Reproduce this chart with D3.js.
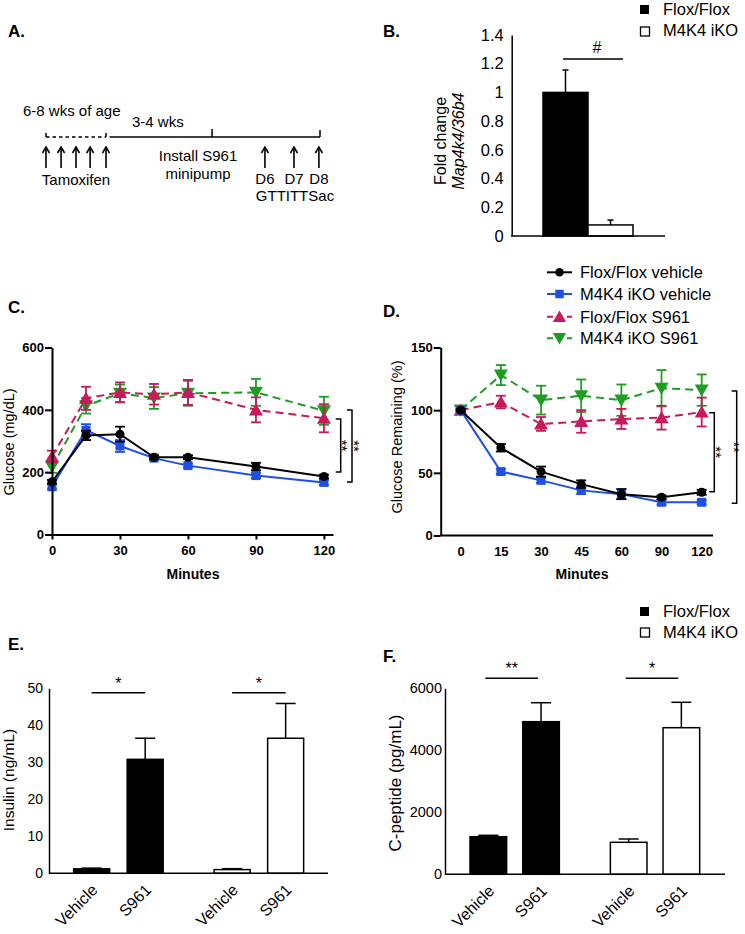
<!DOCTYPE html>
<html><head><meta charset="utf-8">
<script src="https://cdn.jsdelivr.net/npm/d3@7"></script>
<style>
body{margin:0;background:#fff}
svg{display:block}
text{font-family:'Liberation Sans',Arial,Helvetica,sans-serif;fill:#000}
</style>
</head><body>
<svg id="fig" width="745" height="934"></svg>
<script>
// ---------------- DATA ----------------
// Panel A (schematic timeline, positions in % of timeline)
const tamoxifenDays = [0, 5.5, 10.95, 16.1, 21.9];
const eventArrows = [79.9, 90.5, 99.6];
const eventTop = ["D6", "D7", "D8"];
const eventBottom = ["GTT", "ITT", "Sac"];
const installPos = 60.6;

// Panel B
const bGroups = ["Flox/Flox", "M4K4 iKO"];
const bValues = [1.0, 0.077];
const bErrors = [0.156, 0.034];
const bTicks = [0, 0.2, 0.4, 0.6, 0.8, 1, 1.2, 1.4];

// Panel C (GTT)
const gttMinutes = [0, 15, 30, 45, 60, 90, 120];
const gttFloxVeh = [169, 318, 322, 248, 248, 218, 186];
const gttFloxVehErr = [6, 15, 24, 6, 6, 12, 6];
const gttKoVeh = [153, 335, 284, 245, 221, 189, 167];
const gttKoVehErr = [8, 19, 19, 6, 6, 8, 8];
const gttFloxS961 = [250, 437, 456, 450, 456, 400, 373];
const gttFloxS961Err = [19, 37, 32, 33, 40, 40, 45];
const gttKoS961 = [217, 413, 453, 438, 453, 456, 397];
const gttKoS961Err = [19, 25, 28, 35, 40, 43, 45];
const gttYTicks = [0, 200, 400, 600];
const gttXTicks = [0, 30, 60, 90, 120];

// Panel D (ITT)
const ittMinutes = ["0", "15", "30", "45", "60", "90", "120"];
const ittFloxVeh = [100, 70, 51, 41, 33, 30.5, 34.5];
const ittFloxVehErr = [1, 3, 4, 3, 4, 1.5, 2];
const ittKoVeh = [100, 51, 44, 36, 33, 26.5, 26.5];
const ittKoVehErr = [1, 2, 2, 3, 4, 2, 1.5];
const ittFloxS961 = [100, 106.5, 89, 91, 93, 94, 98.5];
const ittFloxS961Err = [0, 5, 5.5, 9, 8, 9.5, 11.5];
const ittKoS961 = [100, 128, 108, 111.5, 108, 117.5, 116];
const ittKoS961Err = [0, 8, 11.5, 13, 12.5, 14.5, 12.5];
const ittYTicks = [0, 50, 100, 150];

const seriesNames = ["Flox/Flox vehicle", "M4K4 iKO vehicle", "Flox/Flox S961", "M4K4 iKO S961"];

// Panel E (insulin)
const treatments = ["Vehicle", "S961"];
const insulinFlox = [1.2, 30.8];
const insulinFloxErr = [0.2, 5.7];
const insulinKo = [1.0, 36.5];
const insulinKoErr = [0.25, 9.4];
const insulinTicks = [0, 10, 20, 30, 40, 50];

// Panel F (C-peptide)
const cpepFlox = [1213, 4923];
const cpepFloxErr = [45, 612];
const cpepKo = [1032, 4729];
const cpepKoErr = [107, 819];
const cpepTicks = [0, 2000, 4000, 6000];

// ---------------- STYLE ----------------
const COL = {black: "#000000", blue: "#1f4fe6", pink: "#c8195c", green: "#1f9d22"};
const svg = d3.select("#fig");

function label(t, x, y, opts = {}) {
  const el = svg.append("text").attr("x", x).attr("y", y).text(t)
    .style("font-size", (opts.size || 15) + "px").style("fill", "#000");
  if (opts.bold) el.style("font-weight", "bold");
  if (opts.anchor) el.attr("text-anchor", opts.anchor);
  if (opts.italic) el.style("font-style", "italic");
  return el;
}
function rotLabel(t, x, y, angle, size, opts = {}) {
  const el = svg.append("text").attr("transform", `translate(${x},${y}) rotate(${angle})`)
    .attr("text-anchor", opts.anchor || "middle").text(t).style("font-size", size + "px").style("fill", "#000");
  if (opts.bold) el.style("font-weight", "bold");
  if (opts.italic) el.style("font-style", "italic");
  return el;
}
function line(x1, y1, x2, y2, w = 1.5, dash = null, col = "#000") {
  const l = svg.append("line").attr("x1", x1).attr("y1", y1).attr("x2", x2).attr("y2", y2)
    .attr("stroke", col).attr("stroke-width", w);
  if (dash) l.attr("stroke-dasharray", dash);
  return l;
}

// Panel labels
label("A.", 8, 37, {size: 17, bold: true});
label("B.", 383, 37, {size: 17, bold: true});
label("C.", 8, 313, {size: 17, bold: true});
label("D.", 383, 317, {size: 17, bold: true});
label("E.", 8, 650, {size: 17, bold: true});
label("F.", 383, 662, {size: 17, bold: true});

// ---------------- PANEL A ----------------
{
  const xs = d3.scaleLinear().domain([0, 100]).range([46, 320]);
  const yT = 137;
  line(xs(0), yT, xs(21.9), yT, 1.5, "3.5,3");
  line(xs(0), yT - 4, xs(0), yT, 1.5);
  line(xs(21.9), yT - 4, xs(21.9), yT, 1.5);
  line(xs(23.2), yT, xs(100), yT, 1.5);
  line(xs(installPos), yT - 8, xs(installPos), yT, 1.5);
  line(xs(100), yT - 7, xs(100), yT, 1.5);
  const arrow = (p) => {
    const x = xs(p);
    line(x, 148, x, 168, 1.6);
    svg.append("path").attr("d", `M${x - 3.5},${153} L${x},${147} L${x + 3.5},${153}`)
      .attr("fill", "none").attr("stroke", "#000").attr("stroke-width", 1.6);
  };
  tamoxifenDays.forEach(arrow);
  eventArrows.forEach(arrow);
  label("6-8 wks of age", 23, 116, {size: 15});
  label("3-4 wks", 132, 127, {size: 15});
  label("Tamoxifen", xs(10.95), 185, {size: 15, anchor: "middle"});
  label("Install S961", xs(installPos) - 14, 161, {size: 15, anchor: "middle"});
  label("minipump", xs(installPos) - 14, 179, {size: 15, anchor: "middle"});
  eventArrows.forEach((p, i) => {
    label(eventTop[i], xs(p), 184, {size: 15, anchor: "middle"});
  });
  label(eventBottom.join(""), xs(eventArrows[1]) + 1, 201, {size: 15, anchor: "middle"});
}

// ---------------- PANEL B ----------------
{
  const y = d3.scaleLinear().domain([0, 1.4]).range([236, 35]);
  const x = d3.scaleBand().domain(bGroups).range([543, 633]).padding(0);
  const g = svg.append("g");
  bGroups.forEach((k, i) => {
    const x0 = x(k), w = x.bandwidth();
    const cx = x0 + w / 2;
    line(cx, y(bValues[i]), cx, y(bValues[i] + bErrors[i]), 1.5);
    line(cx - 3, y(bValues[i] + bErrors[i]), cx + 3, y(bValues[i] + bErrors[i]), 1.5);
    g.append("rect").attr("x", x0).attr("y", y(bValues[i])).attr("width", w)
      .attr("height", y(0) - y(bValues[i]))
      .attr("fill", i === 0 ? "#000" : "#fff").attr("stroke", "#000").attr("stroke-width", 1.5);
  });
  const ax = svg.append("g").attr("transform", "translate(511.7,0)")
    .call(d3.axisLeft(y).tickValues(bTicks).tickSize(0).tickPadding(8).tickFormat(d3.format("~g")));
  ax.select(".domain").attr("stroke-width", 1.5);
  ax.selectAll("text").style("font-size", "16.5px").style("font-family", "'Liberation Sans',Arial,sans-serif");
  line(511, y(0), 665, y(0), 1.5);
  line(563, 59, 623, 59, 1.5);
  label("#", 597, 53, {size: 16, anchor: "middle"});
  rotLabel("Fold change", 446, 141, -90, 16);
  rotLabel("Map4k4/36b4", 464, 141, -90, 16, {italic: true});
  svg.append("rect").attr("x", 640).attr("y", 5).attr("width", 9).attr("height", 9).attr("fill", "#000");
  svg.append("rect").attr("x", 640.5).attr("y", 27).attr("width", 9).attr("height", 9)
    .attr("fill", "#fff").attr("stroke", "#000").attr("stroke-width", 1.3);
  label(bGroups[0], 663, 15, {size: 16.5});
  label(bGroups[1], 663, 36, {size: 16.5});
}

// ---------------- helpers for line panels ----------------
function symbolFor(i) {
  return [d3.symbolCircle, d3.symbolSquare, d3.symbolTriangle, d3.symbolTriangle][i];
}
function drawMarker(g, x, y, i, col, scale = 1) {
  const sizes = [64, 80, 85, 85];
  const p = g.append("path").attr("d", d3.symbol(symbolFor(i), sizes[i] * scale)())
    .attr("fill", col);
  const rot = i === 3 ? " rotate(180)" : "";
  const dy = i === 2 ? 1.5 : (i === 3 ? -1.5 : 0);
  p.attr("transform", `translate(${x},${y + dy})${rot}`);
}
function drawSeries(g, xs, ys, xv, yv, ev, i, col, dashed) {
  const pts = xv.map((d, k) => [xs(d), ys(yv[k])]);
  g.append("path").attr("d", d3.line()(pts)).attr("fill", "none").attr("stroke", col)
    .attr("stroke-width", 2).attr("stroke-dasharray", dashed ? "8,5" : null);
  xv.forEach((d, k) => {
    const cx = xs(d);
    const top = ys(yv[k] + ev[k]), bot = ys(yv[k] - ev[k]);
    g.append("line").attr("x1", cx).attr("x2", cx).attr("y1", top).attr("y2", bot)
      .attr("stroke", col).attr("stroke-width", 1.8);
    [top, bot].forEach(yy => g.append("line").attr("x1", cx - 5).attr("x2", cx + 5)
      .attr("y1", yy).attr("y2", yy).attr("stroke", col).attr("stroke-width", 1.8));
  });
  xv.forEach((d, k) => drawMarker(g, xs(d), ys(yv[k]), i, col));
}
function styleAxis(ax, size) {
  ax.select(".domain").attr("stroke-width", 2);
  ax.selectAll(".tick line").attr("stroke-width", 2);
  ax.selectAll("text").style("font-size", size + "px").style("font-weight", "bold")
    .style("font-family", "'Liberation Sans',Arial,sans-serif");
}
function bracket(x, y1, y2, stars, sx, size = 15) {
  svg.append("path").attr("d", `M${x - 5},${y1} L${x},${y1} L${x},${y2} L${x - 5},${y2}`)
    .attr("fill", "none").attr("stroke", "#000").attr("stroke-width", 1.5);
  rotLabel(stars, sx, (y1 + y2) / 2, 90, size);
}

// ---------------- PANEL C ----------------
{
  const xs = d3.scaleLinear().domain([0, 124]).range([52, 333]);
  const ys = d3.scaleLinear().domain([0, 600]).range([534.5, 347.5]);
  const g = svg.append("g");
  drawSeries(g, xs, ys, gttMinutes, gttKoS961, gttKoS961Err, 3, COL.green, true);
  drawSeries(g, xs, ys, gttMinutes, gttFloxS961, gttFloxS961Err, 2, COL.pink, true);
  drawSeries(g, xs, ys, gttMinutes, gttKoVeh, gttKoVehErr, 1, COL.blue, false);
  drawSeries(g, xs, ys, gttMinutes, gttFloxVeh, gttFloxVehErr, 0, COL.black, false);
  const ay = svg.append("g").attr("transform", "translate(52,0)")
    .call(d3.axisLeft(ys).tickValues(gttYTicks).tickSize(7).tickSizeOuter(0).tickPadding(1));
  styleAxis(ay, 13);
  const axx = svg.append("g").attr("transform", "translate(0,534.5)")
    .call(d3.axisBottom(xs).tickValues(gttXTicks).tickSize(5).tickSizeOuter(0).tickPadding(6));
  styleAxis(axx, 13);
  label("Minutes", 193, 579, {size: 14, bold: true, anchor: "middle"});
  rotLabel("Glucose (mg/dL)", 14, 442, -90, 14.5);
  bracket(340.7, 419, 472, "**", 337);
  bracket(352, 410, 482, "**", 349);
}

// ---------------- PANEL D ----------------
{
  const xs = d3.scalePoint().domain(ittMinutes).range([460.7, 701.7]);
  const ys = d3.scaleLinear().domain([0, 150]).range([535.5, 347.5]);
  const g = svg.append("g");
  drawSeries(g, xs, ys, ittMinutes, ittKoS961, ittKoS961Err, 3, COL.green, true);
  drawSeries(g, xs, ys, ittMinutes, ittFloxS961, ittFloxS961Err, 2, COL.pink, true);
  drawSeries(g, xs, ys, ittMinutes, ittKoVeh, ittKoVehErr, 1, COL.blue, false);
  drawSeries(g, xs, ys, ittMinutes, ittFloxVeh, ittFloxVehErr, 0, COL.black, false);
  const ay = svg.append("g").attr("transform", "translate(440.7,0)")
    .call(d3.axisLeft(ys).tickValues(ittYTicks).tickSize(7).tickSizeOuter(0).tickPadding(1));
  styleAxis(ay, 13);
  const axx = svg.append("g").attr("transform", "translate(0,535.5)")
    .call(d3.axisBottom(xs).tickSize(0).tickSizeOuter(0).tickPadding(11));
  styleAxis(axx, 13);
  axx.select(".domain").remove();
  line(440.7, 535.5, 713, 535.5, 2);
  label("Minutes", 582, 579, {size: 14, bold: true, anchor: "middle"});
  rotLabel("Glucose Remaining (%)", 402, 437, -90, 14.5);
  bracket(714.3, 412.7, 491.7, "**", 711);
  bracket(736.7, 391, 503.3, "**", 729, 14);
  const cols = [COL.black, COL.blue, COL.pink, COL.green];
  const rows = [272.3, 294, 316.7, 338.3];
  seriesNames.forEach((n, i) => {
    const lg = svg.append("g");
    lg.append("line").attr("x1", 547).attr("x2", 572).attr("y1", rows[i]).attr("y2", rows[i])
      .attr("stroke", cols[i]).attr("stroke-width", 2).attr("stroke-dasharray", i >= 2 ? "6,4" : null);
    drawMarker(lg, 559.5, rows[i], i, cols[i], 0.9);
    label(n, 580, rows[i] + 6, {size: 16.5});
  });
}

// ---------------- bar panels E & F ----------------
function barPanel(cfg) {
  const y = d3.scaleLinear().domain(cfg.domain).range([cfg.y0, cfg.y1]);
  const xo = d3.scaleBand().domain(bGroups).range(cfg.groupRange).paddingInner(cfg.pOuter);
  const xi = d3.scaleBand().domain(treatments).range([0, xo.bandwidth()])
    .paddingInner(cfg.pInner).paddingOuter(cfg.pInner / 2);
  const g = svg.append("g");
  bGroups.forEach((grp, gi) => {
    treatments.forEach((t, ti) => {
      const v = cfg.values[gi][ti], e = cfg.errors[gi][ti];
      const x0 = xo(grp) + xi(t), w = xi.bandwidth(), cx = x0 + w / 2;
      g.append("line").attr("x1", cx).attr("x2", cx).attr("y1", y(v)).attr("y2", y(v + e))
        .attr("stroke", "#000").attr("stroke-width", 1.5);
      g.append("line").attr("x1", cx - cfg.cap).attr("x2", cx + cfg.cap).attr("y1", y(v + e)).attr("y2", y(v + e))
        .attr("stroke", "#000").attr("stroke-width", 1.5);
      g.append("rect").attr("x", x0).attr("y", y(v)).attr("width", w).attr("height", y(0) - y(v))
        .attr("fill", gi === 0 ? "#000" : "#fff").attr("stroke", "#000").attr("stroke-width", 1.5);
      rotLabel(t, cx + cfg.lblDx, cfg.lblY, -45, 16, {anchor: "end"});
    });
    const c1 = xo(grp) + xi(treatments[0]) + xi.bandwidth() / 2;
    const c2 = xo(grp) + xi(treatments[1]) + xi.bandwidth() / 2;
    line(c1 - cfg.sigPad, cfg.sigY, c2 - cfg.sigPad, cfg.sigY, 1.5);
    label(cfg.stars[gi], (c1 + c2) / 2 - cfg.sigPad, cfg.sigY - 4, {size: 16, anchor: "middle"});
  });
  const ax = svg.append("g").attr("transform", `translate(${cfg.axisX},0)`)
    .call(d3.axisLeft(y).tickValues(cfg.ticks).tickSize(0).tickPadding(cfg.tickPad).tickSizeOuter(0)
      .tickFormat(d3.format("d")));
  ax.select(".domain").attr("stroke-width", 1.5);
  ax.selectAll("text").style("font-size", cfg.tickSize + "px").style("font-family", "'Liberation Sans',Arial,sans-serif");
  line(cfg.axisX, cfg.y0, cfg.axisEnd, cfg.y0, 1.5);
  rotLabel(cfg.ylabel, cfg.ylabelX, cfg.ylabelY, -90, cfg.ylabelSize);
}

barPanel({
  domain: [0, 50], y0: 873.3, y1: 688.3, groupRange: [64.9, 312.4], pOuter: 0.238, pInner: 0.327,
  values: [insulinFlox, insulinKo], errors: [insulinFloxErr, insulinKoErr], cap: 10,
  lblDx: 7, lblY: 891, sigY: 692.7, sigPad: 0, stars: ["*", "*"],
  axisX: 49, axisEnd: 328, ticks: insulinTicks, tickPad: 6, tickSize: 14,
  ylabel: "Insulin (ng/mL)", ylabelX: 14, ylabelY: 780, ylabelSize: 15.5
});
barPanel({
  domain: [0, 6000], y0: 874.3, y1: 688.3, groupRange: [462, 707.7], pOuter: 0.249, pInner: 0.305,
  values: [cpepFlox, cpepKo], errors: [cpepFloxErr, cpepKoErr], cap: 10,
  lblDx: 7, lblY: 892, sigY: 678.3, sigPad: 3, stars: ["**", "*"],
  axisX: 445, axisEnd: 725, ticks: cpepTicks, tickPad: 3, tickSize: 14.5,
  ylabel: "C-peptide (pg/mL)", ylabelX: 401, ylabelY: 783, ylabelSize: 17
});
svg.append("rect").attr("x", 640).attr("y", 607).attr("width", 9).attr("height", 9).attr("fill", "#000");
svg.append("rect").attr("x", 640.5).attr("y", 628).attr("width", 9).attr("height", 9)
  .attr("fill", "#fff").attr("stroke", "#000").attr("stroke-width", 1.3);
label(bGroups[0], 663, 616.5, {size: 16.5});
label(bGroups[1], 663, 637.5, {size: 16.5});
</script>
</body></html>
